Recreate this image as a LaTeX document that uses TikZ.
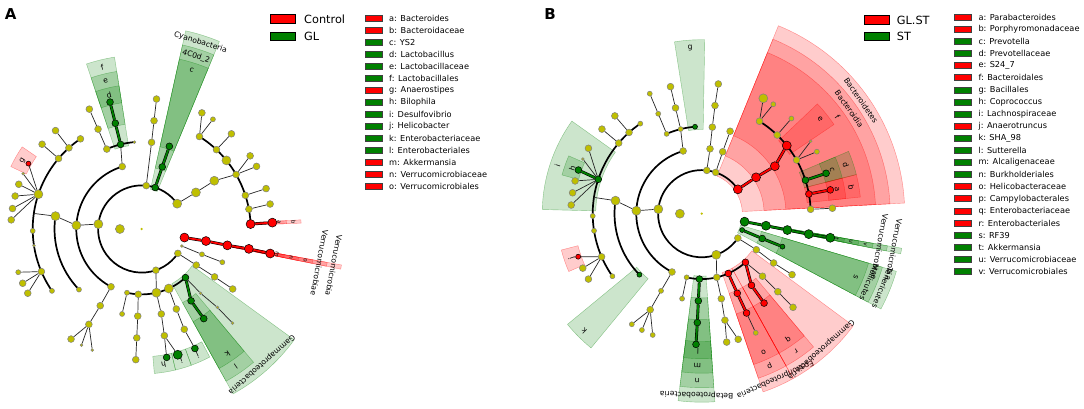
\documentclass[tikz,border=0pt]{standalone}
\usepackage{fontspec}
\setmainfont{DejaVu Sans}
\definecolor{ycol}{RGB}{191,191,0}
\definecolor{gcol}{RGB}{0,128,0}
\definecolor{rcol}{RGB}{255,0,0}
\colorlet{bycol}{gray}
\colorlet{bgcol}{black}
\colorlet{brcol}{black}
\newcommand{\cfont}{\fontsize{7.6}{8}\selectfont}
\newcommand{\tfont}{\fontsize{5.5}{6}\selectfont}
\pgfdeclarelayer{bg}
\pgfsetlayers{bg,main}
\tikzset{
  nd/.style={circle, inner sep=0pt, line width=0.5pt},
  edge/.style={draw=black!85, line width=0.7pt},
  arcl/.style={draw=black, line width=1.7pt},
  redge/.style={draw=rcol, line width=1.8pt, preaction={draw=black, line width=2.9pt}},
  gedge/.style={draw=gcol, line width=1.8pt, preaction={draw=black, line width=2.9pt}},
  lbl/.style={inner sep=0pt},
  keybox/.style={draw=black!75, line width=0.7pt, minimum width=17pt, minimum height=6pt, inner sep=0pt},
  keytxt/.style={font=\fontsize{8.2}{9}\selectfont, anchor=west, inner sep=0pt},
  grpbox/.style={draw=black, line width=0.9pt, minimum width=25pt, minimum height=8.5pt, inner sep=0pt},
  grptxt/.style={font=\fontsize{11.3}{12}\selectfont, anchor=west, inner sep=0pt},
  paneltxt/.style={font=\fontsize{15}{16}\selectfont\bfseries, inner sep=0pt}
}
\begin{document}
\begin{tikzpicture}[x=1pt, y=1pt]
\begin{pgfonlayer}{bg}
  \fill[white] (0,0) rectangle (1084,-409);
\end{pgfonlayer}
\useasboundingbox (0,0) rectangle (1084,-409);

% ---------- panel A ----------
\node[paneltxt] (pA) at (10.8,-13.8) {A};
\begin{scope}[shift={(141.7,-229)}]
  \node[nd, minimum size=2.5pt, fill=ycol] (A0) at (0,0) {};
  \foreach \nm/\ang/\lv/\sz/\cl in {kd/180/1/9/ycol,
    p1/173.5/2/9/ycol, p2/84/2/6.8/ycol, p3/72/2/6.8/gcol, p4/35.5/2/9/ycol, p5/-11.3/2/9/rcol, p6/-23/2/2.8/ycol, p7/-34/2/6.8/ycol, p8/289/2/6.8/ycol,
    c1/107.3/3/6.8/ycol, c2/176.8/3/9/ycol, c3/242/3/6.8/ycol, c4/71.7/3/6.8/gcol, c5/34/3/9/ycol, c6/-10.6/3/9/rcol, c7/-22.8/3/5/ycol, c8/-33.5/3/6.8/ycol,
    c9/257/3/5/ycol, c10/267/3/6.8/ycol, c11/283/3/9/ycol, c12/294.5/3/9/ycol, c13/312/3/6.8/gcol,
    o1/113.6/4/6.8/ycol, o2/104/4/6.8/gcol, o3/94.8/4/2.8/ycol, o4/171.5/4/9/ycol, o5/224/4/5/ycol, o6/241.6/4/6.8/ycol, o7/71.5/4/6.8/gcol, o8/33.6/4/9/ycol,
    o9/-10.8/4/9/rcol, o10/-22.4/4/5/ycol, o11/-33.3/4/6.8/ycol, o12/257/4/5/ycol, o13/267.4/4/6.8/ycol, o14/283/4/6.8/ycol, o15/293.4/4/6.8/ycol,
    o16/304.5/4/6.8/gcol, o17/312.5/4/2.8/ycol, o18/83.5/4/6.8/ycol,
    f1/113.6/5/6.8/ycol, f2/104/5/6.8/gcol, f3/124.2/5/6.8/ycol, f4/131.9/5/6.8/ycol, f5/139.7/5/6.8/ycol, f6/161.4/5/9/ycol, f7/181/5/5/ycol, f8/188.8/5/2.8/ycol,
    f9/203/5/6.8/ycol, f10/214.6/5/5/ycol, f11/241/5/6.8/ycol, f12/83.5/5/6.8/ycol, f13/58/5/6.8/ycol, f14/46.7/5/6.8/ycol, f15/39/5/9/ycol, f16/30/5/6.8/ycol,
    f17/18/5/6.8/ycol, f18/10.5/5/6.8/ycol, f19/2.6/5/9/rcol, f20/-10.5/5/9/rcol, f21/-33.4/5/6.8/ycol, f22/267.4/5/6.8/ycol, f23/282/5/6.8/ycol, f24/293/5/6.8/ycol,
    f25/304.7/5/6.8/gcol, f26/314/5/2.8/ycol,
    g1/113.6/6/6.8/ycol, g2/104/6/6.8/gcol, g3/131.2/6/6.8/ycol, g4/139.6/6/6.8/ycol, g5/150/6/5/rcol, g6/155/6/2.8/ycol, g7/160/6/6.8/ycol, g8/165.4/6/6.8/ycol,
    g9/171/6/6.8/ycol, g10/176/6/6.8/ycol, g11/199.3/6/5/ycol, g12/204.5/6/6.8/ycol, g13/209.4/6/6.8/ycol, g14/237.3/6/6.8/ycol, g15/242.6/6/2.8/ycol, g16/247.8/6/2.8/ycol,
    g17/83.5/6/6.8/ycol, g18/62.6/6/6.8/ycol, g19/57/6/5/ycol, g20/46.7/6/6.8/ycol, g21/34/6/6.8/ycol, g22/28.6/6/6.8/ycol, g23/18/6/6.8/ycol, g24/11/6/6.8/ycol,
    g25/2.8/6/9/rcol, g26/-10.8/6/9/rcol, g27/267.4/6/6.8/ycol, g28/281/6/6.8/gcol, g29/286/6/9/gcol, g30/294/6/6.8/gcol, g31/314/6/2.8/ycol}
    \node[nd, minimum size=\sz pt, fill=\cl, draw=b\cl] (A\nm) at (\ang:\lv*21.8) {};
  \coordinate (Aq1) at (171.8:109);

  \begin{pgfonlayer}{bg}
    % clades
    \foreach \ca/\cb/\lv/\cl/\txt/\fs [count=\i] in {145.5/154.5/6/rcol/g/\cfont,
      67.5/77.5/2/gcol/Cyanobacteria/\cfont, 67.5/77.5/3/gcol/4C0d\_2/\cfont, 67.5/77.5/4/gcol/c/\cfont,
      99/108.5/4/gcol/f/\cfont, 99/108.5/5/gcol/e/\cfont, 99/108.5/6/gcol/d/\cfont,
      275/283.5/6/gcol/h/\cfont, 283.5/290/6/gcol/i/\cfont, 290/298/6/gcol/j/\cfont,
      299/324/3/gcol/Gammaproteobacteria/\cfont, 299/310/4/gcol/l/\cfont, 299/310/5/gcol/k/\cfont,
      -11.4/-10.2/2/rcol/Verrucomicrobia/\cfont, -11.4/-10.2/3/rcol/Verrucomicrobiae/\cfont,
      -11.4/-10.2/4/rcol/o/\tfont, -11.4/-10.2/5/rcol/n/\tfont, -11.4/-10.2/6/rcol/m/\tfont,
      2.1/3.3/5/rcol/b/\tfont, 2.1/3.3/6/rcol/a/\tfont}
    {
      \fill[\cl, fill opacity=0.2, draw=\cl, draw opacity=0.4, line width=0.4pt]
        (\ca:{\lv*21.8-3}) arc[start angle=\ca, end angle=\cb, radius={(\lv*21.8-3)*1pt}]
        -- (\cb:{232-\lv*14.5}) arc[start angle=\cb, end angle=\ca, radius={(232-\lv*14.5)*1pt}] -- cycle;
      \node[lbl, font=\fs, rotate={(\ca+\cb)/2-90}] (Acl\i) at ({(\ca+\cb)/2}:{224.5-\lv*14.5}) {\txt};
    }
    % arcs
    \foreach \rad/\ba/\bb in {43.6pt/35.5/326, 65.4pt/107.3/242, 87.2pt/171.5/224, 109pt/124.2/214.6,
      87.2pt/94.8/113.6, 109pt/2.6/58, 65.4pt/257/312}
      \draw[arcl] (\ba:\rad) arc[start angle=\ba, end angle=\bb, radius=\rad];
    % edges
    \foreach \ea/\eb in {p1/c2, c2/o4, o4/q1, f4/g3, f5/g4, f6/g5, f6/g6, f6/g7, f6/g8, f6/g9, f6/g10,
      f9/g11, f9/g12, f9/g13, c3/o6, o6/f11, f11/g14, f11/g15, f11/g16, c1/o2, o1/f1, f1/g1,
      p2/o18, o18/f12, f12/g17, p4/c5, c5/o8, o8/f16, f13/g18, f13/g19, f14/g20, f16/g21, f16/g22,
      f17/g23, f18/g24, p6/c7, c7/o10, p7/c8, c8/o11, o11/f21, p8/c11, c9/o12, c10/o13, o13/f22,
      f22/g27, c11/o14, o14/f23, f23/g28, f23/g29, c12/o15, o15/f24, f24/g30, c13/o17, o17/f26, f26/g31}
      \draw[edge] (A\ea) -- (A\eb);
    \foreach \ea/\eb in {p5/c6, c6/o9, o9/f20, f20/g26, f19/g25}
      \draw[redge] (A\ea) -- (A\eb);
    \foreach \ea/\eb in {p3/c4, c4/o7, o2/f2, f2/g2, c13/o16, o16/f25}
      \draw[gedge] (A\ea) -- (A\eb);
  \end{pgfonlayer}
\end{scope}

% legend A
\node[grpbox, fill=rcol] (Ag1) at (283.3,-19) {};
\node[grptxt] (Agt1) at (304,-19) {Control};
\node[grpbox, fill=gcol] (Ag2) at (283.3,-36.3) {};
\node[grptxt] (Agt2) at (304,-36.3) {GL};
\foreach \kl/\cl/\txt [count=\i] in {a/rcol/Bacteroides, b/rcol/Bacteroidaceae, c/gcol/YS2, d/gcol/Lactobacillus,
  e/gcol/Lactobacillaceae, f/gcol/Lactobacillales, g/rcol/Anaerostipes, h/gcol/Bilophila, i/gcol/Desulfovibrio,
  j/gcol/Helicobacter, k/gcol/Enterobacteriaceae, l/gcol/Enterobacteriales, m/rcol/Akkermansia,
  n/rcol/Verrucomicrobiaceae, o/rcol/Verrucomicrobiales}
{
  \node[keybox, fill=\cl] (Ak\i) at (374.2,{-18-12.05*(\i-1)}) {};
  \node[keytxt] (At\i) at (389,{-18-12.05*(\i-1)}) {\kl: \txt};
}

% ---------- panel B ----------
\node[paneltxt] (pB) at (550,-14) {B};
\begin{scope}[shift={(701.7,-213.7)}]
  \node[nd, minimum size=2.5pt, fill=ycol] (B0) at (0,0) {};
  \foreach \nm/\ang/\lv/\sz/\cl in {kd/180/1/9/ycol,
    p1/174/2/9/ycol, p2/83.3/2/6.8/ycol, p3/71.3/2/6.8/ycol, p4/34/2/9/rcol, p5/-10.5/2/9/gcol, p6/-22/2/5/gcol, p7/-34/2/6.8/ycol, p8/289.5/2/9/ycol,
    c1/106.5/3/6.8/ycol, c2/177.4/3/9/ycol, c3/243/3/6.8/ycol, c4/82.7/3/6.8/ycol, c5/71.3/3/6.8/ycol, c6/33.8/3/9/rcol, c7/-10.6/3/9/gcol, c8/-22.3/3/6.8/gcol,
    c9/-33.4/3/6.8/ycol, c10/256.7/3/5/ycol, c11/268/3/6.8/gcol, c12/283.3/3/6.8/ycol, c13/294/3/6.8/rcol, c14/312/3/6.8/rcol,
    o1/113.7/4/5/ycol, o2/104/4/5/ycol, o3/94.4/4/5/gcol, o4/171.4/4/9/ycol, o5/224.4/4/5/gcol, o6/242.2/4/5/ycol, o7/83/4/6.8/ycol, o8/71/4/6.8/ycol,
    o9/33/4/9/rcol, o10/-10.8/4/9/gcol, o11/-22.2/4/5/gcol, o12/-34.4/4/6.8/ycol, o13/257/4/5/ycol, o14/267.8/4/6.8/gcol, o15/283/4/6.8/ycol,
    o16/294.1/4/6.8/rcol, o17/304.8/4/6.8/rcol, o18/314.2/4/6.8/ycol,
    f1/113.5/5/5/ycol, f2/103.9/5/6.8/ycol, f3/124.3/5/5/ycol, f4/131.8/5/6.8/ycol, f5/139.6/5/6.8/ycol, f6/161.6/5/6.8/gcol, f7/181.2/5/5/ycol, f8/189/5/5/ycol,
    f9/203.3/5/6.8/ycol, f10/215/5/5/ycol, f11/241.8/5/6.8/ycol, f12/83/5/6.8/ycol, f13/58/5/6.8/ycol, f14/46.2/5/6.8/ycol, f15/38.7/5/9/rcol, f16/29.5/5/6.8/ycol,
    f17/17.9/5/6.8/gcol, f18/10.4/5/6.8/rcol, f19/2.3/5/6.8/ycol, f20/-10.8/5/9/gcol, f21/-34/5/6.8/ycol, f22/267.7/5/6.8/gcol, f23/282.3/5/6.8/ycol,
    f24/294.3/5/6.8/rcol, f25/304.9/5/6.8/rcol, f26/314.3/5/6.8/ycol,
    g1/113.4/6/5/ycol, g2/103.8/6/6.8/ycol, g3/131.6/6/6.8/ycol, g4/139.7/6/6.8/ycol, g5/150/6/6.8/ycol, g6/155.3/6/2.8/ycol, g7/160.5/6/6.8/gcol, g8/165.5/6/6.8/ycol,
    g9/170.8/6/6.8/ycol, g10/176.2/6/6.8/ycol, g11/199.2/6/5/rcol, g12/204.6/6/6.8/ycol, g13/210/6/6.8/ycol, g14/237.7/6/5/ycol, g15/242.8/6/5/ycol, g16/248/6/5/ycol,
    g17/82.7/6/6.8/ycol, g18/61.9/6/9/ycol, g19/56.8/6/5/ycol, g20/46.7/6/5/ycol, g21/33.6/6/2.8/ycol, g22/28.3/6/5/ycol, g23/18/6/6.8/gcol, g24/10.5/6/6.8/rcol,
    g25/2.4/6/6.8/ycol, g26/-10.6/6/9/gcol, g27/267.5/6/6.8/gcol, g28/281/6/6.8/ycol, g29/286.2/6/6.8/ycol, g30/294.4/6/5/ycol, g31/314.3/6/6.8/ycol}
    \node[nd, minimum size=\sz pt, fill=\cl, draw=b\cl] (B\nm) at (\ang:\lv*21.8) {};
  \coordinate (Bq1) at (171.4:109);

  \begin{pgfonlayer}{bg}
    % clades
    \foreach \ca/\cb/\lv/\cl/\txt/\fs [count=\i] in {3/67.8/2/rcol/Bacteroidetes/\cfont, 3/67.8/3/rcol/Bacteroidia/\cfont, 3/67.8/4/rcol/f/\cfont,
      34/43.5/5/rcol/e/\cfont, 14.2/23/5/gcol/d/\cfont, 14.2/23/6/gcol/c/\cfont, 6/14.2/5/rcol/b/\cfont, 6/14.2/6/rcol/a/\cfont,
      89/99/4/gcol/g/\cfont, 144.5/178.5/5/gcol/i/\cfont, 156.5/164.5/6/gcol/h/\cfont, 194.5/203.5/6/rcol/j/\cfont,
      219.5/230.5/4/gcol/k/\cfont,
      262.8/274/3/gcol/Betaproteobacteria/\cfont, 262.8/274/4/gcol/n/\cfont, 262.8/274/5/gcol/m/\cfont, 262.8/274/6/gcol/l/\cfont,
      289/299/3/rcol/Epsilonproteobacteria/\cfont, 289/299/4/rcol/p/\cfont, 289/299/5/rcol/o/\cfont,
      299/323.5/3/rcol/Gammaproteobacteria/\cfont, 299/310/4/rcol/r/\cfont, 299/310/5/rcol/q/\cfont,
      -28/-16.5/2/gcol/Tenericutes/\cfont, -28/-16.5/3/gcol/Mollicutes/\cfont, -28/-16.5/4/gcol/s/\cfont,
      -11.4/-9.8/2/gcol/Verrucomicrobia/\cfont, -11.4/-9.8/3/gcol/Verrucomicrobiae/\cfont,
      -11.4/-9.8/4/gcol/v/\tfont, -11.4/-9.8/5/gcol/u/\tfont, -11.4/-9.8/6/gcol/t/\tfont}
    {
      \fill[\cl, fill opacity=0.2, draw=\cl, draw opacity=0.4, line width=0.4pt]
        (\ca:{\lv*21.8-3}) arc[start angle=\ca, end angle=\cb, radius={(\lv*21.8-3)*1pt}]
        -- (\cb:{232-\lv*14.5}) arc[start angle=\cb, end angle=\ca, radius={(232-\lv*14.5)*1pt}] -- cycle;
      \node[lbl, font=\fs, rotate={(\ca+\cb)/2-90}] (Bcl\i) at ({(\ca+\cb)/2}:{224.5-\lv*14.5}) {\txt};
    }
    % arcs
    \foreach \rad/\ba/\bb in {43.6pt/34/326, 65.4pt/106.5/243, 87.2pt/171.4/224.4, 109pt/124.3/215,
      87.2pt/94.4/113.7, 109pt/2.3/58, 65.4pt/256.7/312}
      \draw[arcl] (\ba:\rad) arc[start angle=\ba, end angle=\bb, radius=\rad];
    % edges
    \foreach \ea/\eb in {p1/c2, c2/o4, o4/q1, f4/g3, f5/g4, f6/g5, f6/g6, f6/g8, f6/g9, f6/g10,
      f9/g11, f9/g12, f9/g13, c3/o6, o6/f11, f11/g14, f11/g15, f11/g16, c1/o2, o1/f1, f1/g1, o2/f2, f2/g2,
      p2/c4, c4/o7, o7/f12, f12/g17, p3/c5, c5/o8, f13/g18, f13/g19, f14/g20, f16/g21, f16/g22, f19/g25,
      p7/c9, c9/o12, o12/f21, p8/c12, c10/o13, c12/o15, o15/f23, f23/g28, f23/g29, f24/g30,
      c14/o18, o18/f26, f26/g31}
      \draw[edge] (B\ea) -- (B\eb);
    \foreach \ea/\eb in {p4/c6, c6/o9, o9/f15, f18/g24, c13/o16, o16/f24, c14/o17, o17/f25}
      \draw[redge] (B\ea) -- (B\eb);
    \foreach \ea/\eb in {f6/g7, f17/g23, p5/c7, c7/o10, o10/f20, f20/g26, p6/c8, c8/o11, c11/o14, o14/f22, f22/g27}
      \draw[gedge] (B\ea) -- (B\eb);
  \end{pgfonlayer}
\end{scope}

% legend B
\node[grpbox, fill=rcol] (Bg1) at (876.7,-20) {};
\node[grptxt] (Bgt1) at (896.7,-20) {GL.ST};
\node[grpbox, fill=gcol] (Bg2) at (876.7,-36.5) {};
\node[grptxt] (Bgt2) at (896.7,-36.5) {ST};
\foreach \kl/\cl/\txt [count=\i] in {a/rcol/Parabacteroides, b/rcol/Porphyromonadaceae, c/gcol/Prevotella,
  d/gcol/Prevotellaceae, e/rcol/S24\_7, f/rcol/Bacteroidales, g/gcol/Bacillales, h/gcol/Coprococcus,
  i/gcol/Lachnospiraceae, j/rcol/Anaerotruncus, k/gcol/SHA\_98, l/gcol/Sutterella, m/gcol/Alcaligenaceae,
  n/gcol/Burkholderiales, o/rcol/Helicobacteraceae, p/rcol/Campylobacterales, q/rcol/Enterobacteriaceae,
  r/rcol/Enterobacteriales, s/gcol/RF39, t/gcol/Akkermansia, u/gcol/Verrucomicrobiaceae, v/gcol/Verrucomicrobiales}
{
  \node[keybox, fill=\cl] (Bk\i) at (963.3,{-17.3-12.1*(\i-1)}) {};
  \node[keytxt] (Bt\i) at (978.3,{-17.3-12.1*(\i-1)}) {\kl: \txt};
}
\end{tikzpicture}
\end{document}
